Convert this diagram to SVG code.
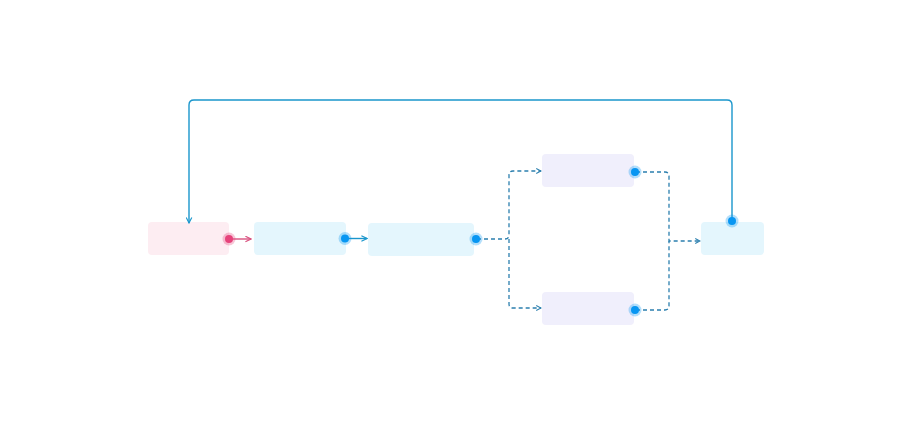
<svg xmlns="http://www.w3.org/2000/svg" width="912" height="425" viewBox="0 0 912 425">
<defs>
<style>
.n{stroke:none}
.pink{fill:#fdedf2}
.blue{fill:#e4f6fd}
.lav{fill:#f0effc}
.solid{fill:none;stroke:#1a96cc;stroke-width:1.4}
.sp{fill:none;stroke:#d9517f;stroke-width:1.4}
.dash{fill:none;stroke:#2b7fae;stroke-width:1.3;stroke-dasharray:4 3}
.pb{fill:#0896f2}
.pbh{fill:#0896f2;opacity:0.3}
.pp{fill:#e6437b}
.pph{fill:#e6437b;opacity:0.3}
</style>
<marker id="a" viewBox="0 0 10 10" refX="9" refY="5" markerWidth="7" markerHeight="7" markerUnits="userSpaceOnUse" orient="auto"><path d="M1,1 L9,5 L1,9" fill="none" stroke="#1a96cc" stroke-width="1.6"/></marker>
<marker id="ad" viewBox="0 0 10 10" refX="9" refY="5" markerWidth="6" markerHeight="6" markerUnits="userSpaceOnUse" orient="auto"><path d="M1,1 L9,5 L1,9" fill="none" stroke="#2b7fae" stroke-width="1.8"/></marker>
<marker id="ap" viewBox="0 0 10 10" refX="9" refY="5" markerWidth="7" markerHeight="7" markerUnits="userSpaceOnUse" orient="auto"><path d="M1,1 L9,5 L1,9" fill="none" stroke="#d9517f" stroke-width="1.6"/></marker>
</defs>
<rect width="912" height="425" fill="#ffffff"/>
<g id="node-start"><rect class="n pink" x="148" y="222" width="81" height="33" rx="4"/></g>
<g id="node-2"><rect class="n blue" x="254" y="222" width="92" height="33" rx="4"/></g>
<g id="node-3"><rect class="n blue" x="368" y="223" width="106" height="33" rx="4"/></g>
<g id="node-top"><rect class="n lav" x="542" y="154" width="92" height="33" rx="4"/></g>
<g id="node-bottom"><rect class="n lav" x="542" y="292" width="92" height="33" rx="4"/></g>
<g id="node-end"><rect class="n blue" x="701" y="222" width="63" height="33" rx="4"/></g>
<g id="connectors">
<path class="sp" d="M230,239 H251" marker-end="url(#ap)"/>
<path class="solid" d="M346,238.5 H367" marker-end="url(#a)"/>
<path class="solid" d="M732,221 V105 Q732,100 727,100 H194 Q189,100 189,105 V223" marker-end="url(#a)"/>
<path class="dash" d="M477,239 H505 Q509,239 509,235 V175 Q509,171 513,171 H541" marker-end="url(#ad)"/>
<path class="dash" d="M509,239 V304 Q509,308 513,308 H541" marker-end="url(#ad)"/>
<path class="dash" d="M636,172 H665 Q669,172 669,176 V241 H700" marker-end="url(#ad)"/>
<path class="dash" d="M636,310 H665 Q669,310 669,306 V241"/>
</g>
<g id="ports">
<circle class="pph" cx="229" cy="239" r="6.5"/><circle class="pp" cx="229" cy="239" r="4"/>
<circle class="pbh" cx="345" cy="238.5" r="6.5"/><circle class="pb" cx="345" cy="238.5" r="4"/>
<circle class="pbh" cx="476" cy="239" r="6.5"/><circle class="pb" cx="476" cy="239" r="4"/>
<circle class="pbh" cx="635" cy="172" r="6.5"/><circle class="pb" cx="635" cy="172" r="4"/>
<circle class="pbh" cx="635" cy="310" r="6.5"/><circle class="pb" cx="635" cy="310" r="4"/>
<circle class="pbh" cx="732" cy="221" r="6.5"/><circle class="pb" cx="732" cy="221" r="4"/>
</g>
</svg>
